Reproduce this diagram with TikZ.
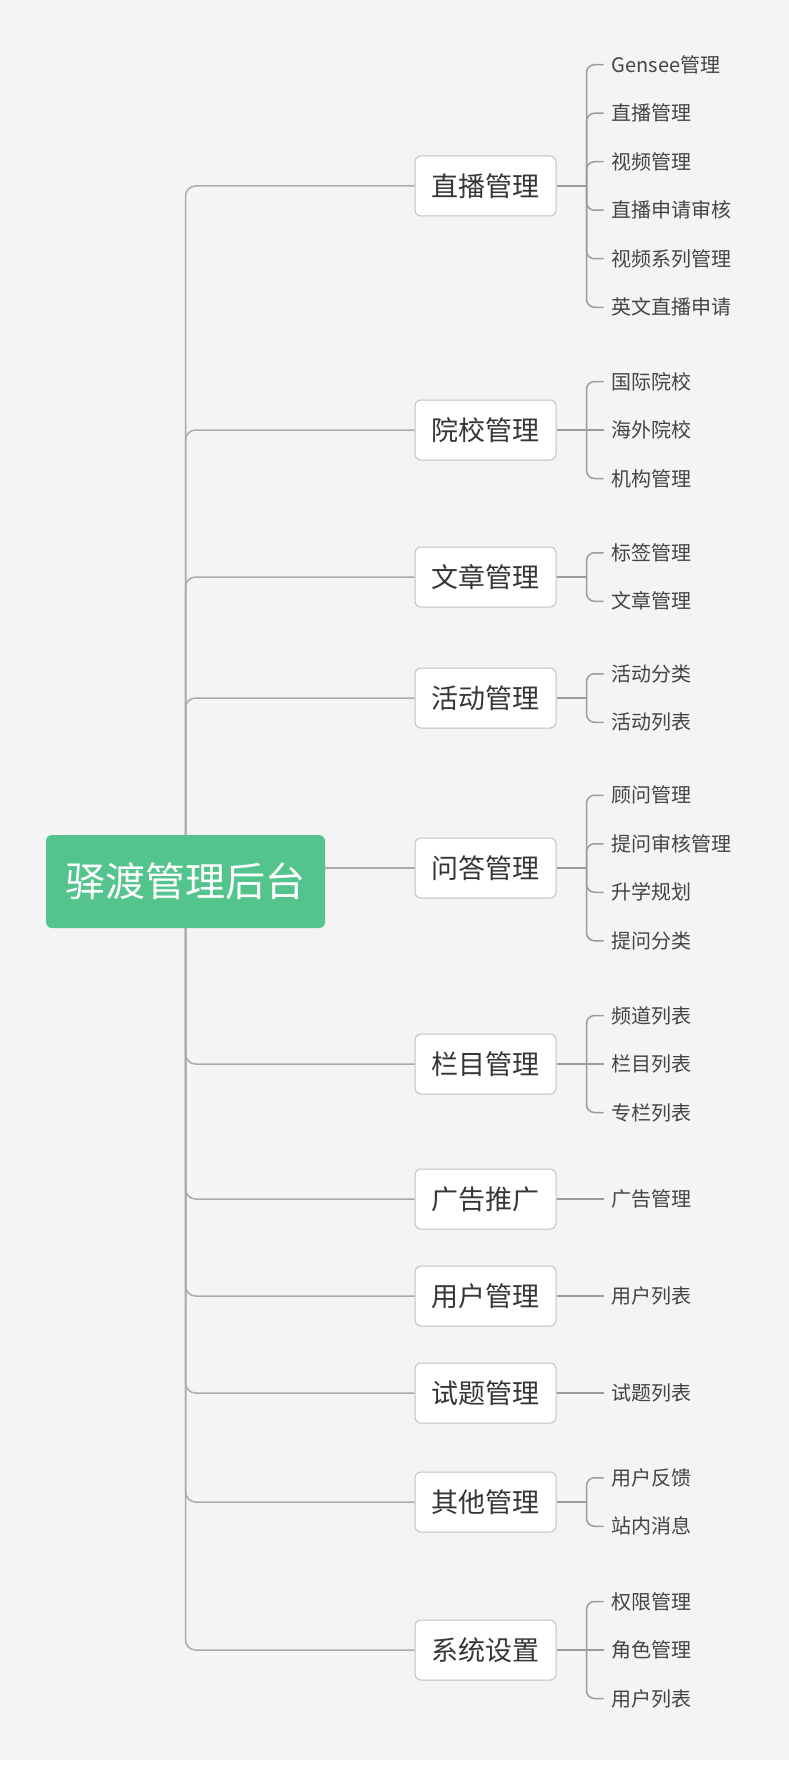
\documentclass[tikz,border=0pt]{standalone}
\usepackage{fontspec}
\setmainfont{Noto Sans CJK SC}
\usepackage{xcolor}
\definecolor{bggray}{HTML}{F4F4F4}
\definecolor{rootgreen}{HTML}{52C48C}
\definecolor{linegray}{HTML}{ABABAB}
\definecolor{twiggray}{HTML}{9C9C9C}
\definecolor{boxgray}{HTML}{C2C2C2}
\definecolor{textgray}{HTML}{363636}
\definecolor{leafgray}{HTML}{444444}
\tikzset{
  rootbox/.style={fill=rootgreen,text=white,rounded corners=6pt,minimum width=279pt,minimum height=93pt,font=\fontsize{40pt}{46pt}\selectfont},
  branchbox/.style={draw=boxgray,line width=1pt,fill=white,text=textgray,rounded corners=6pt,minimum width=141pt,minimum height=60pt,font=\fontsize{27pt}{32pt}\selectfont},
  leaf/.style={anchor=west,inner xsep=8pt,text=leafgray,font=\fontsize{20pt}{24pt}\selectfont},
  trunk/.style={draw=linegray,line width=1.5pt,rounded corners=10pt},
  stem/.style={draw=twiggray,line width=2pt},
  twig/.style={draw=twiggray,line width=1.5pt,rounded corners=8pt}
}

\begin{document}
\begin{tikzpicture}[x=1pt,y=-1pt]
\useasboundingbox (0,0) rectangle (789,1771);
% background
\fill[bggray] (0,0) rectangle (789,1760);

% root and branches
\node[rootbox] (root) at (185.5,881.5) {驿渡管理后台};

\node[branchbox] (b1) at (485.5,186) {直播管理};
\node[branchbox] (b2) at (485.5,430) {院校管理};
\node[branchbox] (b3) at (485.5,577) {文章管理};
\node[branchbox] (b4) at (485.5,698) {活动管理};
\node[branchbox] (b5) at (485.5,868) {问答管理};
\node[branchbox] (b6) at (485.5,1064) {栏目管理};
\node[branchbox] (b7) at (485.5,1199) {广告推广};
\node[branchbox] (b8) at (485.5,1296) {用户管理};
\node[branchbox] (b9) at (485.5,1393) {试题管理};
\node[branchbox] (b10) at (485.5,1502) {其他管理};
\node[branchbox] (b11) at (485.5,1650) {系统设置};

% trunk
\foreach \k in {1,2,3,4}
  \draw[trunk] (root.north) |- (b\k.west);
\draw[trunk] (root.east |- b5.west) -- (b5.west);
\foreach \k in {6,7,8,9,10,11}
  \draw[trunk] (root.south) |- (b\k.west);

% junctions
\foreach \k in {1,...,11}
  \coordinate (j\k) at ([xshift=30pt]b\k.east);

% leaves
\foreach \t [count=\j] in {Gensee管理,直播管理,视频管理,直播申请审核,视频系列管理,英文直播申请}
  \node[leaf] (c1-\j) at ([xshift=17pt,yshift={(3.5-\j)*48.5pt}]j1) {\t};
\foreach \t [count=\j] in {国际院校,海外院校,机构管理}
  \node[leaf] (c2-\j) at ([xshift=17pt,yshift={(2-\j)*48.5pt}]j2) {\t};
\foreach \t [count=\j] in {标签管理,文章管理}
  \node[leaf] (c3-\j) at ([xshift=17pt,yshift={(1.5-\j)*48.5pt}]j3) {\t};
\foreach \t [count=\j] in {活动分类,活动列表}
  \node[leaf] (c4-\j) at ([xshift=17pt,yshift={(1.5-\j)*48.5pt}]j4) {\t};
\foreach \t [count=\j] in {顾问管理,提问审核管理,升学规划,提问分类}
  \node[leaf] (c5-\j) at ([xshift=17pt,yshift={(2.5-\j)*48.5pt}]j5) {\t};
\foreach \t [count=\j] in {频道列表,栏目列表,专栏列表}
  \node[leaf] (c6-\j) at ([xshift=17pt,yshift={(2-\j)*48.5pt}]j6) {\t};
\node[leaf] (c7-1) at ([xshift=17pt]j7) {广告管理};
\node[leaf] (c8-1) at ([xshift=17pt]j8) {用户列表};
\node[leaf] (c9-1) at ([xshift=17pt]j9) {试题列表};
\foreach \t [count=\j] in {用户反馈,站内消息}
  \node[leaf] (c10-\j) at ([xshift=17pt,yshift={(1.5-\j)*48.5pt}]j10) {\t};
\foreach \t [count=\j] in {权限管理,角色管理,用户列表}
  \node[leaf] (c11-\j) at ([xshift=17pt,yshift={(2-\j)*48.5pt}]j11) {\t};

% stems and twigs (middle leaf gets a straight line)
\foreach \k in {1,...,11}
  \draw[stem] (b\k.east) -- (j\k);
\foreach \k/\n in {1/6,2/3,3/2,4/2,5/4,6/3,7/1,8/1,9/1,10/2,11/3}
  \foreach \j in {1,...,\n} {
    \pgfmathtruncatemacro\ismid{(2*\j==\n+1)}
    \ifnum\ismid=1
      \draw[twig] (j\k) -- (c\k-\j.west);
    \else
      \draw[twig] (j\k) |- (c\k-\j.west);
    \fi
  }

\end{tikzpicture}
\end{document}
